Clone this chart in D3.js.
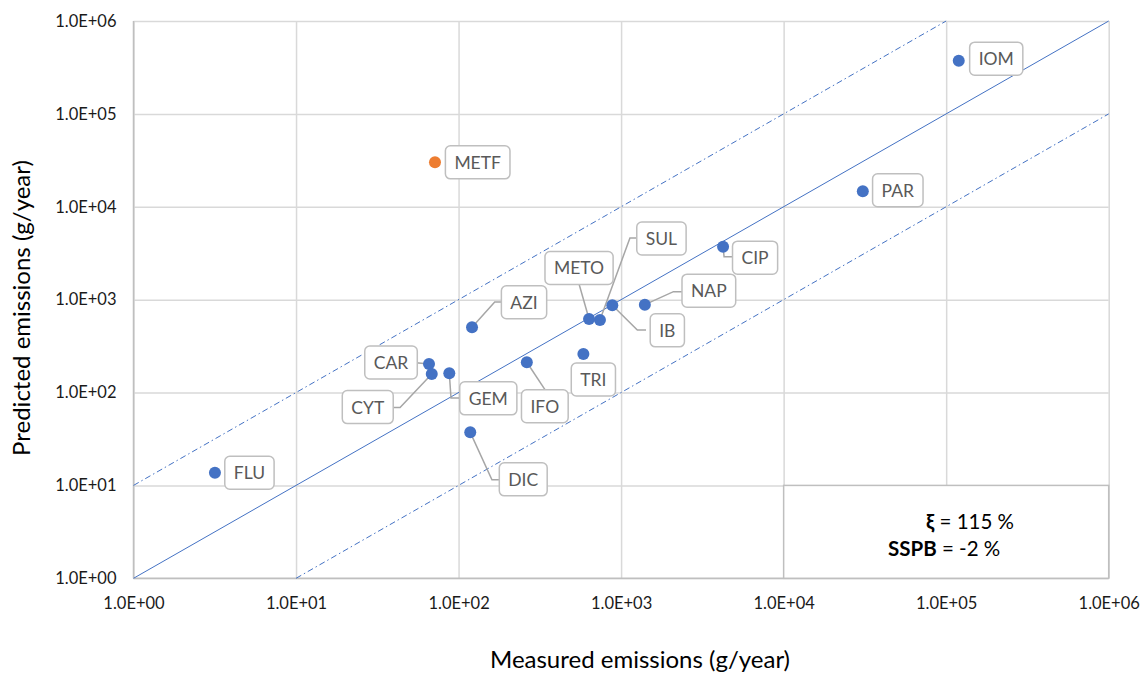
<!DOCTYPE html>
<html>
<head>
<meta charset="utf-8">
<script src="https://cdn.jsdelivr.net/npm/d3@7"></script>
<style>
  html, body { margin: 0; padding: 0; background: #fff; }
  svg { display: block; font-family: Lato, "Open Sans", sans-serif; }
</style>
</head>
<body>
<svg id="chart" width="1146" height="673"></svg>
<script>
// ---------------- data ----------------
const compounds = ["IOM","PAR","CIP","NAP","IB","SUL","METO","AZI","CAR","CYT","GEM","IFO","TRI","DIC","FLU","METF"];
const measured  = [119500, 30700, 4240, 1400, 883, 741, 635, 121, 65.8, 68.4, 87.7, 263, 586, 118, 3.17, 71.6];
const predicted = [374000, 14700, 3720, 883, 869, 604, 619, 504, 203, 158, 161, 212, 260, 37.3, 13.7, 30100];
const outliers  = ["METF"];
const tickValues = [1, 10, 100, 1000, 10000, 100000, 1000000];
const refFactors = [1, 10, 0.1];          // 1:1 line and factor-10 bounds
const statLines = [["ξ", " = 115 %"], ["SSPB", " = -2 %"]];
const xTitle = "Measured emissions (g/year)";
const yTitle = "Predicted emissions (g/year)";

// ---------------- layout (label placement, px offsets from the point) ----------------
const labelPos = {
  IOM:[37.5,-2], PAR:[35,-1], CIP:[32,11], NAP:[64,-14], IB:[55,25], SUL:[61.5,-81.5],
  METO:[-10,-51], AZI:[52,-25], CAR:[-38,-1.5], CYT:[-64,33], GEM:[39,25], IFO:[18,44],
  TRI:[10,25.5], DIC:[53,47], FLU:[34.5,0], METF:[42.7,0]
};
const leaderPath = {
  CIP:[[0,0],[1,10],[12,10]], NAP:[[0,0],[28.6,-13],[40.3,-13]], IB:[[0,0],[25,24.7],[33.7,24.7]],
  SUL:[[0,0],[30,-82],[39,-82]], METO:[[0,0],[-10,-35]], AZI:[[0,0],[22.7,-25.3],[31.7,-25.3]],
  CAR:[[0,0],[-13,-1.3]], CYT:[[0,0],[-31.7,33.4],[-41,33.4]], GEM:[[0,0],[1.7,24.7],[12.7,24.7]],
  IFO:[[0,0],[18.3,27.7]], DIC:[[0,0],[21.7,47.4],[31.7,47.4]]
};

const svg = d3.select("#chart");
const x = d3.scaleLog().domain([1, 1e6]).range([133.5, 1108.7]);
const y = d3.scaleLog().domain([1, 1e6]).range([578.3, 21]);
const fmt = d => "1.0E+" + String(Math.round(Math.log10(d))).padStart(2, "0");

const gridColor = "#d9d9d9";
// grid
const gx = svg.append("g").attr("transform", `translate(0,${y(1)})`)
  .call(d3.axisBottom(x).tickValues(tickValues).tickFormat(fmt).tickSize(-(y(1) - y(1e6))).tickPadding(19));
gx.select(".domain").remove();
gx.selectAll(".tick line").attr("stroke", gridColor).attr("stroke-width", 1.5);
gx.selectAll(".tick text").attr("fill", "#1a1a1a").attr("font-size", 16.5).attr("font-family", "Lato");

const gy = svg.append("g").attr("transform", `translate(${x(1)},0)`)
  .call(d3.axisLeft(y).tickValues(tickValues).tickFormat(fmt).tickSize(-(x(1e6) - x(1))).tickPadding(17));
gy.select(".domain").remove();
gy.selectAll(".tick line").attr("stroke", gridColor).attr("stroke-width", 1.5);
gy.selectAll(".tick text").attr("fill", "#1a1a1a").attr("font-size", 16.5).attr("font-family", "Lato");

// axis lines
svg.append("line").attr("x1", x(1)).attr("x2", x(1e6)).attr("y1", y(1)).attr("y2", y(1))
  .attr("stroke", "#bfbfbf").attr("stroke-width", 1.5);
svg.append("line").attr("x1", x(1)).attr("x2", x(1)).attr("y1", y(1)).attr("y2", y(1e6))
  .attr("stroke", "#bfbfbf").attr("stroke-width", 1.5);

// reference lines
refFactors.forEach(f => {
  const x0 = Math.max(1, 1 / f), x1 = Math.min(1e6, 1e6 / f);
  svg.append("line")
    .attr("x1", x(x0)).attr("y1", y(x0 * f)).attr("x2", x(x1)).attr("y2", y(x1 * f))
    .attr("stroke", "#4472c4").attr("stroke-width", 1)
    .attr("stroke-dasharray", f === 1 ? null : "6,3,1.5,3");
});

// stats box
const sb = svg.append("g");
sb.append("rect").attr("x", x(1e4)).attr("y", y(10)).attr("width", x(1e6) - x(1e4)).attr("height", y(1) - y(10))
  .attr("fill", "#fff").attr("stroke", "#bfbfbf").attr("stroke-width", 1.5);
const statX = [926, 888], statY = [529, 556];
statLines.forEach((s, i) => {
  const t = sb.append("text").attr("x", statX[i]).attr("y", statY[i]).attr("font-size", 20.5).attr("fill", "#000");
  t.append("tspan").attr("font-weight", "bold").text(s[0]);
  t.append("tspan").text(s[1]);
});

const data = compounds.map((c, i) => ({ name: c, mx: measured[i], py: predicted[i] }));

// leaders
const lg = svg.append("g");
data.forEach(d => {
  const lp = leaderPath[d.name];
  if (!lp) return;
  const px = x(d.mx), py = y(d.py);
  lg.append("path").attr("d", d3.line()(lp.map(p => [px + p[0], py + p[1]])))
    .attr("fill", "none").attr("stroke", "#a6a6a6").attr("stroke-width", 1.5);
});

// points
svg.append("g").selectAll("circle").data(data).join("circle")
  .attr("cx", d => x(d.mx)).attr("cy", d => y(d.py)).attr("r", 6)
  .attr("fill", d => outliers.includes(d.name) ? "#ed7d31" : "#4472c4");

// labels
const lab = svg.append("g");
data.forEach(d => {
  const off = labelPos[d.name];
  const cx = x(d.mx) + off[0], cy = y(d.py) + off[1];
  const g = lab.append("g");
  const rect = g.append("rect");
  const t = g.append("text").attr("x", cx).attr("y", cy).attr("text-anchor", "middle")
    .attr("dominant-baseline", "central").attr("font-size", 17.5).attr("fill", "#595959").text(d.name);
  const w = t.node().getComputedTextLength() + 18;
  rect.attr("x", cx - w / 2).attr("y", cy - 16.5).attr("width", w).attr("height", 33).attr("rx", 5)
    .attr("fill", "#fff").attr("stroke", "#bfbfbf").attr("stroke-width", 1.5);
});

// axis titles
svg.append("text").attr("x", 640).attr("y", 668).attr("text-anchor", "middle")
  .attr("font-size", 24).attr("fill", "#000").text(xTitle);
svg.append("text").attr("transform", "translate(30,308) rotate(-90)").attr("text-anchor", "middle")
  .attr("font-size", 24).attr("fill", "#000").text(yTitle);
</script>
</body>
</html>
